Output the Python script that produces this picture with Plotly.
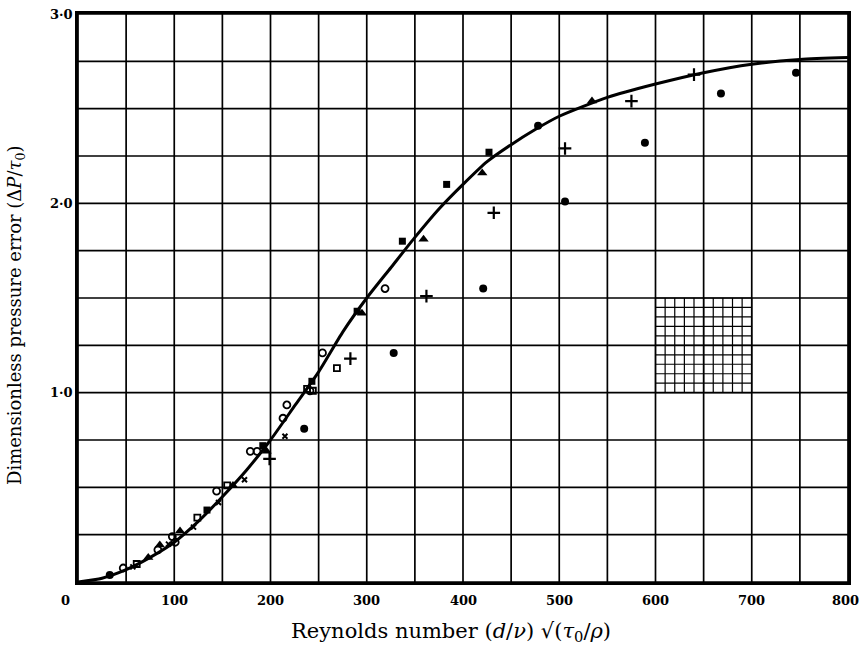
import plotly.graph_objects as go

# Smooth calibration curve
curve_x = [0, 25, 50, 75, 100, 125, 150, 175, 200, 225, 250, 275, 300, 325, 350,
           375, 400, 425, 450, 475, 500, 550, 600, 650, 700, 750, 800]
curve_y = [0, 0.02, 0.065, 0.13, 0.21, 0.32, 0.45, 0.59, 0.75, 0.93, 1.11, 1.32,
           1.50, 1.66, 1.82, 1.97, 2.10, 2.22, 2.31, 2.39, 2.46, 2.56, 2.63, 2.69,
           2.735, 2.76, 2.77]

# Measured points, grouped by symbol
open_circle_x = [47, 83, 98, 101, 144, 179, 186, 213, 217, 241, 254, 319]
open_circle_y = [0.074, 0.17, 0.24, 0.21, 0.48, 0.69, 0.69, 0.865, 0.935, 1.01, 1.21, 1.55]

open_square_x = [61, 124, 155, 238, 244, 269]
open_square_y = [0.095, 0.34, 0.51, 1.02, 1.01, 1.13]

filled_circle_x = [33, 235, 328, 421, 478, 506, 589, 668, 746]
filled_circle_y = [0.037, 0.81, 1.21, 1.55, 2.41, 2.01, 2.32, 2.58, 2.69]

filled_square_x = [134, 192, 243, 290, 337, 383, 427]
filled_square_y = [0.38, 0.72, 1.06, 1.43, 1.80, 2.10, 2.27]

triangle_x = [73, 85, 106, 161, 196, 295, 359, 420, 534]
triangle_y = [0.13, 0.195, 0.27, 0.51, 0.69, 1.42, 1.81, 2.16, 2.54]

cross_x = [57, 94, 120, 146, 173, 215]
cross_y = [0.08, 0.20, 0.29, 0.42, 0.54, 0.77]

plus_x = [199, 283, 362, 432, 506, 575, 640]
plus_y = [0.65, 1.18, 1.51, 1.95, 2.29, 2.54, 2.68]

# Axis labelling
x_ticks = [0, 100, 200, 300, 400, 500, 600, 700, 800]
x_tick_text = ["0", "100", "200", "300", "400", "500", "600", "700", "800"]
y_ticks = [1.0, 2.0, 3.0]
y_tick_text = ["1·0", "2·0", "3·0"]

# Inset of fine ruling
fine_x_range = [600, 700]
fine_y_range = [1.0, 1.5]
fine_divisions = 10

SERIF = "DejaVu Serif"
INK = "black"

fig = go.Figure()

fig.add_trace(go.Scatter(x=curve_x, y=curve_y, mode="lines",
                         line=dict(color=INK, width=3, shape="spline", smoothing=0.6),
                         hoverinfo="skip"))

def add_points(xs, ys, symbol, size, lw=1.5):
    fig.add_trace(go.Scatter(
        x=xs, y=ys, mode="markers",
        marker=dict(symbol=symbol, size=size, color=INK,
                    line=dict(color=INK, width=lw))))

add_points(open_circle_x, open_circle_y, "circle-open", 7, 1.8)
add_points(open_square_x, open_square_y, "square-open", 6, 1.8)
add_points(filled_circle_x, filled_circle_y, "circle", 8, 0)
add_points(filled_square_x, filled_square_y, "square", 7, 0)
add_points(triangle_x, triangle_y, "triangle-up", 9, 0)
add_points(cross_x, cross_y, "x-thin", 5, 2)
add_points(plus_x, plus_y, "cross-thin", 9, 2.2)

# Main ruling: every 50 in x, every 0.25 in y
grid_x = list(range(0, 801, 50))
grid_y = [i * 0.25 for i in range(13)]
shapes = []
for gx in grid_x:
    shapes.append(dict(type="line", xref="x", yref="y", x0=gx, x1=gx, y0=0, y1=3,
                       line=dict(color=INK, width=1.7), layer="below"))
for gy in grid_y:
    shapes.append(dict(type="line", xref="x", yref="y", x0=0, x1=800, y0=gy, y1=gy,
                       line=dict(color=INK, width=1.7), layer="below"))

# Fine ruling inset
for i in range(fine_divisions + 1):
    fx = fine_x_range[0] + i * (fine_x_range[1] - fine_x_range[0]) / fine_divisions
    fy = fine_y_range[0] + i * (fine_y_range[1] - fine_y_range[0]) / fine_divisions
    shapes.append(dict(type="line", xref="x", yref="y", x0=fx, x1=fx,
                       y0=fine_y_range[0], y1=fine_y_range[1],
                       line=dict(color=INK, width=1.2), layer="below"))
    shapes.append(dict(type="line", xref="x", yref="y", x0=fine_x_range[0], x1=fine_x_range[1],
                       y0=fy, y1=fy, line=dict(color=INK, width=1.2), layer="below"))

tick_font = dict(family=SERIF, size=13, color=INK, weight="bold")

# x tick labels drawn as annotations so the end label stays on the page;
# the origin label sits just left of the corner
annotations = []
for xv, txt in zip(x_ticks, x_tick_text):
    shift = -13 if xv == 0 else (-3 if xv == x_ticks[-1] else 0)
    annotations.append(dict(text=txt, xref="x", yref="paper", x=xv, y=0,
                            xshift=shift, yshift=-18,
                            showarrow=False, xanchor="center", yanchor="middle",
                            font=tick_font))

annotations += [
    dict(text="Reynolds number (<i>d</i>/<i>ν</i>) √(<i>τ</i><sub>0</sub>/<i>ρ</i>)",
         xref="paper", yref="paper", x=0.485, y=0, yshift=-50,
         showarrow=False, xanchor="center", yanchor="middle",
         font=dict(family=SERIF, size=21, color=INK)),
    dict(text="Dimensionless pressure error (Δ<i>P</i>/<i>τ</i><sub>0</sub>)",
         xref="paper", yref="paper", x=0, y=0.47, xshift=-62, textangle=-90,
         showarrow=False, xanchor="center", yanchor="middle",
         font=dict(family=SERIF, size=18, color=INK)),
]

fig.update_layout(
    width=860, height=647,
    margin=dict(l=78, r=12, t=14, b=65),
    paper_bgcolor="white", plot_bgcolor="white",
    showlegend=False,
    shapes=shapes,
    xaxis=dict(range=[0, 800], showgrid=False, zeroline=False, automargin=False,
               showticklabels=False, ticks="",
               showline=True, linecolor=INK, linewidth=2.5, mirror=True),
    yaxis=dict(range=[0, 3], showgrid=False, zeroline=False, automargin=False,
               tickvals=y_ticks, ticktext=y_tick_text, ticks="",
               tickfont=tick_font,
               showline=True, linecolor=INK, linewidth=2.5, mirror=True),
    annotations=annotations,
)

fig.write_html("out.html")
